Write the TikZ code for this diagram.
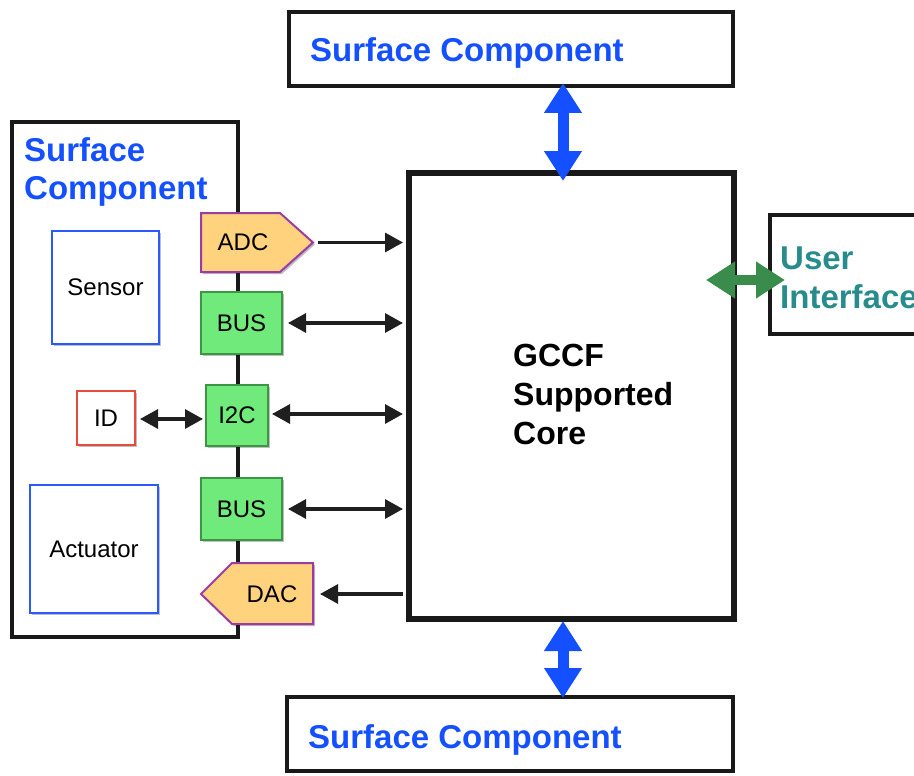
\documentclass[tikz,border=0pt]{standalone}
\usepackage{fontspec}
\setmainfont{Liberation Sans}
\usetikzlibrary{arrows.meta,shadows}

\definecolor{scblue}{RGB}{20,80,255}
\definecolor{uiteal}{RGB}{40,140,140}
\definecolor{uigreen}{RGB}{58,140,76}
\definecolor{chiporange}{RGB}{255,210,125}
\definecolor{chippurple}{RGB}{155,60,165}
\definecolor{chipgreen}{RGB}{112,234,122}
\definecolor{chipgreenedge}{RGB}{60,150,70}
\definecolor{partblue}{RGB}{40,90,255}
\definecolor{partred}{RGB}{230,75,60}

\tikzset{
  softshadow/.style={drop shadow={shadow xshift=2pt,shadow yshift=-2pt,opacity=0.25,fill=black}},
  outerbox/.style={draw=black!90,line width=4,fill=white,inner sep=0,outer sep=0,softshadow},
  corebox/.style={draw=black!90,line width=6.5,fill=white,inner sep=0,outer sep=0,softshadow},
  bigtitle/.style={font=\bfseries\fontsize{33}{38.5}\selectfont,inner sep=0,align=left},
  part/.style={draw,line width=2,fill=white,inner sep=0,outer sep=0,
    font=\fontsize{24}{28}\selectfont,softshadow},
  chip/.style={draw=chipgreenedge,fill=chipgreen,line width=2,inner sep=0,outer sep=0,
    font=\fontsize{24}{28}\selectfont,softshadow},
  convchip/.style={draw=chippurple,fill=chiporange,line width=2,line join=miter,softshadow},
  chiptext/.style={font=\fontsize{24}{28}\selectfont,inner sep=0},
  link/.style={draw=black!88,line width=3.2,>={Triangle[length=18pt,width=19pt]}},
  bluearrow/.style={draw=scblue,line width=11,
    {Triangle[length=30pt,width=36pt]}-{Triangle[length=30pt,width=36pt]}},
  greenarrow/.style={draw=uigreen,line width=10,
    {Triangle[length=29pt,width=35pt]}-{Triangle[length=29pt,width=35pt]}},
}

\begin{document}
\begin{tikzpicture}[x=1pt,y=-1pt]
\useasboundingbox (0,0) rectangle (914,776);

% outer surface components and the core
\node[outerbox,minimum width=444,minimum height=74] (topsc) at (511,49) {};
\node[outerbox,minimum width=446,minimum height=74] (botsc) at (510,734) {};
\node[outerbox,minimum width=226,minimum height=515] (leftsc) at (125,379.5) {};
\node[outerbox,minimum width=190,minimum height=119] (ui) at (865,274.5) {};
\node[corebox,minimum width=325,minimum height=446] (core) at (571.5,396) {};

% titles
\node[bigtitle,text=scblue,anchor=base west] (toptitle) at (310,62) {Surface Component};
\node[bigtitle,text=scblue,anchor=base west] (bottitle) at (308,748) {Surface Component};
\node[bigtitle,text=scblue,anchor=north west] (lefttitle) at (24,137) {Surface\\Component};
\node[bigtitle,text=uiteal,anchor=north west,font=\bfseries\fontsize{33}{39}\selectfont] (uititle) at (780,246.5) {User\\Interface};
\node[bigtitle,text=black,anchor=north west,font=\bfseries\fontsize{32}{39}\selectfont] (coretitle) at (513,344) {GCCF\\Supported\\Core};

% parts inside the left component
\node[part,draw=partblue,minimum width=107,minimum height=113] (sensor) at (105.5,287.5) {Sensor};
\node[part,draw=partred,minimum width=58,minimum height=54] (id) at (106,418) {ID};
\node[part,draw=partblue,minimum width=128,minimum height=128] (actuator) at (94,549) {Actuator};

% interface chips on the component edge
\node[chip,minimum width=81,minimum height=62] (bus1) at (241.5,323) {BUS};
\node[chip,minimum width=62,minimum height=61] (i2c) at (237,415.5) {I2C};
\node[chip,minimum width=81,minimum height=62] (bus2) at (241.5,509) {BUS};

\coordinate (adctip) at (313,242.5);
\coordinate (dacedge) at (313,594);
\path[convchip] (201,213) -- (280,213) -- (adctip) -- (280,272) -- (201,272) -- cycle;
\path[convchip] (dacedge |- 0,563) -- (232,563) -- (201,594) -- (232,624) -- (dacedge |- 0,624) -- cycle;
\node[chiptext] (adc) at (243,242.5) {ADC};
\node[chiptext] (dac) at (272,594) {DAC};

% signal connections
\draw[link,->,shorten <=5pt,shorten >=6pt] (adctip) -- (adctip -| core.west);
\draw[link,<->,shorten <=6pt,shorten >=6pt] (bus1.east) -- (bus1.east -| core.west);
\draw[link,<->,shorten <=4pt,shorten >=6pt] ([yshift=1.5]i2c.east) -- ([yshift=1.5]i2c.east -| core.west);
\draw[link,<->,shorten <=5pt,shorten >=3pt] ([yshift=-1]id.east) -- ([yshift=-1]id.east -| i2c.west);
\draw[link,<->,shorten <=6pt,shorten >=6pt] (bus2.east) -- (bus2.east -| core.west);
\draw[link,->,shorten <=6pt,shorten >=7pt] (dacedge -| core.west) -- (dacedge);

% links between the core and its neighbours
\coordinate (vx) at (563,0);
\coordinate (uy) at (0,280);
\draw[bluearrow,shorten <=-3pt,shorten >=-8pt] (topsc.south -| vx) -- (core.north -| vx);
\draw[bluearrow,shorten <=2pt,shorten >=-1pt] (core.south -| vx) -- (botsc.north -| vx);
\draw[greenarrow,shorten <=-28pt,shorten >=-15pt] (core.east |- uy) -- (ui.west |- uy);
\end{tikzpicture}
\end{document}
